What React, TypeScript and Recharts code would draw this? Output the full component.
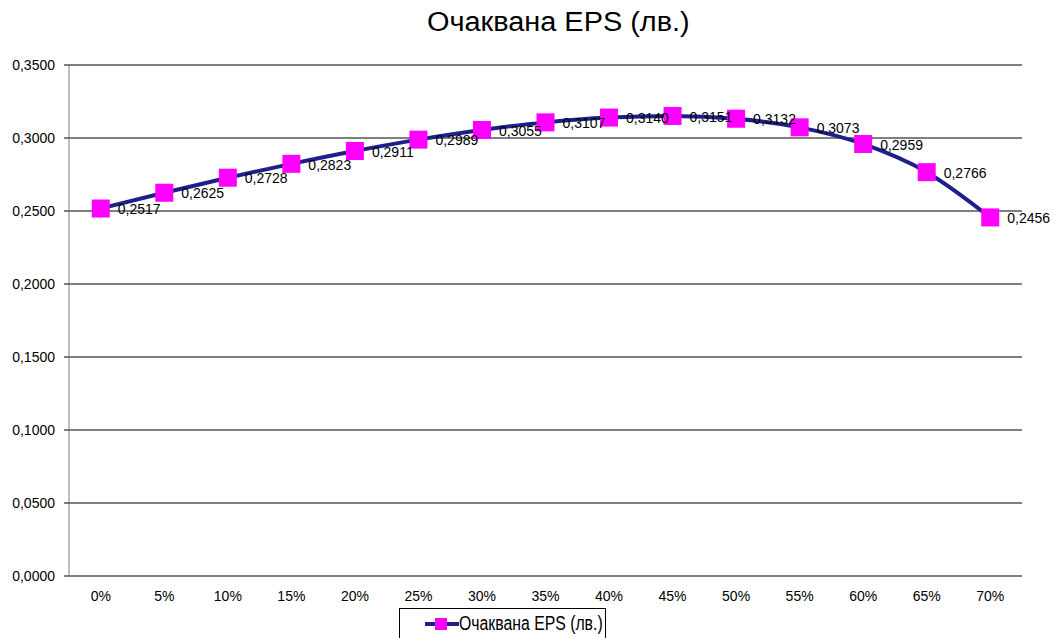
import React from 'react';
import { LineChart, Line, XAxis, YAxis, CartesianGrid, Legend, LabelList } from 'recharts';

const categories = ['0%', '5%', '10%', '15%', '20%', '25%', '30%', '35%', '40%', '45%', '50%', '55%', '60%', '65%', '70%'];
const epsValues = [0.2517, 0.2625, 0.2728, 0.2823, 0.2911, 0.2989, 0.3055, 0.3107, 0.314, 0.3151, 0.3132, 0.3073, 0.2959, 0.2766, 0.2456];
const yTicks = [0, 0.05, 0.1, 0.15, 0.2, 0.25, 0.3, 0.35];
const frameTicks = [0, 1, 2, 3, 4, 5, 6, 7, 8, 9, 10, 11, 12, 13, 14, 15];

const seriesName = 'Очаквана EPS (лв.)';
const data = categories.map((c, i) => ({ cat: c, eps: epsValues[i] }));

const W = 1054;
const H = 638;
const plotLeft = 69;
const plotRight = 1022;
const bandPad = (plotRight - plotLeft) / categories.length / 2;

const fmt = (v: number) => v.toFixed(4).replace('.', ',');

const SquareDot = (props: any) => {
  const { cx, cy } = props;
  if (cx == null || cy == null) return null;
  return <rect x={cx - 9} y={cy - 9} width={18} height={18} fill="#FF00FF" />;
};

const ValueLabel = (props: any) => {
  const { x, y, value } = props;
  return (
    <text x={x + 17} y={y + 2} dominantBaseline="middle" fontSize={14} fill="#000" fontFamily="Arial, 'Liberation Sans', sans-serif">
      {fmt(value)}
    </text>
  );
};

const LegendBox = () => (
  <div
    style={{
      border: '1px solid #000',
      width: 207,
      height: 40,
      boxSizing: 'border-box',
      position: 'relative',
      fontFamily: "Arial, 'Liberation Sans', sans-serif",
      background: '#fff',
      whiteSpace: 'nowrap',
    }}
  >
    <svg width={34} height={20} style={{ position: 'absolute', left: 25, top: 5 }}>
      <line x1={0} y1={10} x2={34} y2={10} stroke="#1F1F8C" strokeWidth={4} />
      <rect x={10} y={4} width={12} height={12} fill="#FF00FF" />
    </svg>
    <span
      style={{
        position: 'absolute',
        left: 59,
        top: 2,
        fontSize: 20,
        lineHeight: '24px',
        display: 'inline-block',
        transform: 'scaleX(0.79)',
        transformOrigin: 'left center',
      }}
    >
      {seriesName}
    </span>
  </div>
);

export default function App() {
  return (
    <div style={{ position: 'absolute', left: 0, top: 0, width: W, height: H, background: '#fff', overflow: 'hidden', fontFamily: "Arial, 'Liberation Sans', sans-serif" }}>
      <div style={{ position: 'absolute', left: 427, top: 5, whiteSpace: 'nowrap', fontSize: 27, lineHeight: '34px', color: '#000', display: 'inline-block', transform: 'scaleX(1.07)', transformOrigin: 'left center' }}>
        {seriesName}
      </div>
      <LineChart width={W} height={H} data={data} margin={{ top: 65, right: W - plotRight, bottom: 0, left: 0 }}>
        <CartesianGrid vertical={false} stroke="#000" strokeWidth={1} />
        <XAxis
          xAxisId="frame"
          type="number"
          dataKey="none"
          domain={[0, 15]}
          ticks={frameTicks}
          tick={false}
          tickSize={5}
          height={0}
          axisLine={{ stroke: '#000' }}
          tickLine={{ stroke: '#000' }}
          allowDataOverflow
        />
        <XAxis
          dataKey="cat"
          height={62}
          axisLine={false}
          tickLine={false}
          padding={{ left: bandPad, right: bandPad }}
          tick={{ fill: '#000', fontSize: 14 }}
          tickMargin={9}
          interval={0}
        />
        <YAxis
          width={plotLeft}
          domain={[0, 0.35]}
          ticks={yTicks}
          tickFormatter={fmt}
          tick={{ fill: '#000', fontSize: 14 }}
          tickSize={5}
          tickMargin={9}
          axisLine={{ stroke: '#808080' }}
          tickLine={{ stroke: '#000' }}
        />
        <Legend
          verticalAlign="middle"
          align="center"
          wrapperStyle={{ position: 'absolute', left: 399, top: 608, width: 'auto' }}
          content={() => <LegendBox />}
        />
        <Line
          type="monotone"
          dataKey="eps"
          name={seriesName}
          stroke="#1F1F8C"
          strokeWidth={4}
          dot={<SquareDot />}
          activeDot={false}
          isAnimationActive={false}
        >
          <LabelList dataKey="eps" content={<ValueLabel />} />
        </Line>
      </LineChart>
    </div>
  );
}
